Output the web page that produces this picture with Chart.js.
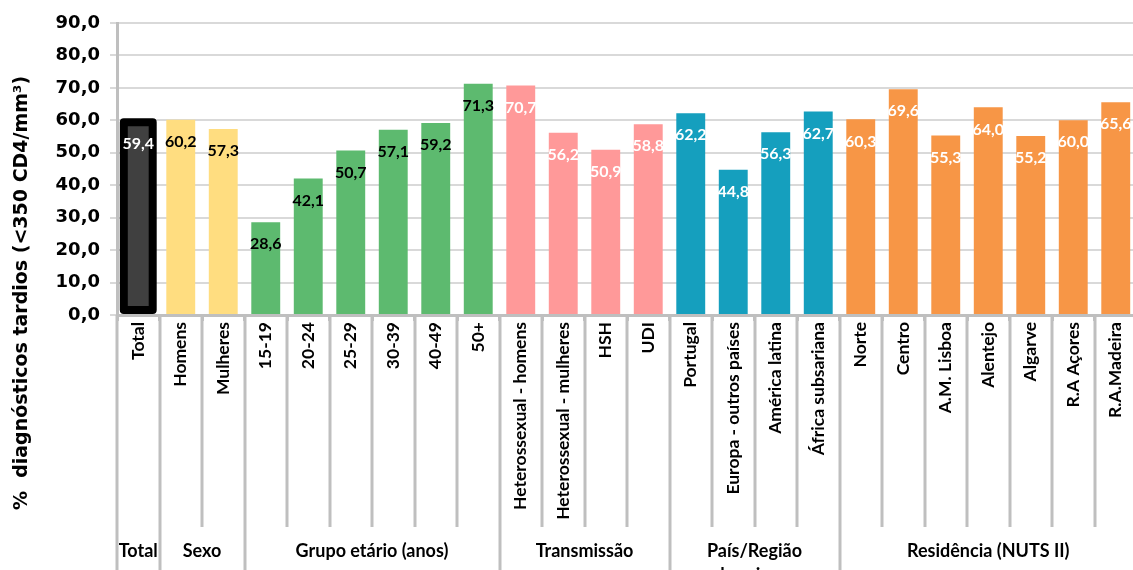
<!DOCTYPE html>
<html lang="pt">
<head>
    <meta charset="UTF-8">
    <title>Diagnósticos tardios de infeção por VIH</title>
    <script src="https://cdn.jsdelivr.net/npm/chart.js"></script>
    <style>
        html, body {
            margin: 0;
            padding: 0;
            overflow: hidden;
            background: #fff;
        }
        .container {
            width: 1140px;
            height: 570px;
            position: relative;
        }
    </style>
</head>
<body>

    <div class="container">
        <canvas id="grafico"></canvas>
    </div>

    <script>
        // Categorias e percentagens de diagnósticos tardios
        const categorias = [
            "Total",
            "Homens", "Mulheres",
            "15-19", "20-24", "25-29", "30-39", "40-49", "50+",
            "Heterossexual - homens", "Heterossexual - mulheres", "HSH", "UDI",
            "Portugal", "Europa - outros países", "América latina", "África subsariana",
            "Norte", "Centro", "A.M. Lisboa", "Alentejo", "Algarve", "R.A Açores", "R.A.Madeira"
        ];
        const valores = [
            59.4,
            60.2, 57.3,
            28.6, 42.1, 50.7, 57.1, 59.2, 71.3,
            70.7, 56.2, 50.9, 58.8,
            62.2, 44.8, 56.3, 62.7,
            60.3, 69.6, 55.3, 64.0, 55.2, 60.0, 65.6
        ];

        // Grupos do eixo horizontal (número de categorias em cada um)
        const grupos = ["Total", "Sexo", "Grupo etário (anos)", "Transmissão", "País/Região\nde origem", "Residência (NUTS II)"];
        const tamanhosGrupo = [1, 2, 6, 4, 4, 7];
        const coresGrupo = ["#404040", "#FFDD80", "#5DBA6F", "#FF9999", "#159FBE", "#F79646"];
        const coresRotulo = ["#ffffff", "#000000", "#000000", "#ffffff", "#ffffff", "#ffffff"];

        const tituloY = "%  diagnósticos tardios (<350 CD4/mm³)";

        // índice do grupo de cada barra
        const grupoDe = [];
        tamanhosGrupo.forEach((n, g) => { for (let k = 0; k < n; k++) grupoDe.push(g); });

        // limites entre grupos (índices de categoria)
        const limitesGrupo = new Set([0]);
        let acum = 0;
        tamanhosGrupo.forEach(n => { acum += n; limitesGrupo.add(acum); });

        const formatar = v => v.toFixed(1).replace(".", ",");

        const desenhoExtra = {
            id: "desenhoExtra",
            afterDatasetsDraw(chart) {
                const ctx = chart.ctx;
                const barras = chart.getDatasetMeta(0).data;

                // contorno preto da barra Total
                const b = barras[0];
                ctx.save();
                ctx.strokeStyle = "#000";
                ctx.lineWidth = 8;
                ctx.lineJoin = "round";
                ctx.strokeRect(b.x - b.width / 2, b.y, b.width, b.base - 4 - b.y);

                // valores dentro das barras
                ctx.font = "bold 16px Lato";
                ctx.textAlign = "center";
                ctx.textBaseline = "middle";
                barras.forEach((bar, i) => {
                    ctx.fillStyle = coresRotulo[grupoDe[i]];
                    ctx.fillText(formatar(valores[i]), bar.x, bar.y + 22);
                });
                ctx.restore();
            },
            afterDraw(chart) {
                const { ctx, chartArea } = chart;
                const x = chart.scales.x;
                const base = chartArea.bottom;

                ctx.save();
                // separadores verticais por baixo do eixo
                ctx.strokeStyle = "#bfbfbf";
                ctx.lineWidth = 3;
                for (let i = 0; i <= categorias.length; i++) {
                    const px = Math.round(x.getPixelForValue(i - 0.5));
                    const fim = limitesGrupo.has(i) ? chart.height : base + 212;
                    ctx.beginPath();
                    ctx.moveTo(px, base);
                    ctx.lineTo(px, fim);
                    ctx.stroke();
                }

                // nomes das categorias (rodados)
                ctx.fillStyle = "#000";
                ctx.font = "bold 17.5px Lato";
                ctx.textAlign = "right";
                ctx.textBaseline = "middle";
                categorias.forEach((c, i) => {
                    ctx.save();
                    ctx.translate(x.getPixelForValue(i), base + 7);
                    ctx.rotate(-Math.PI / 2);
                    ctx.fillText(c, 0, 0);
                    ctx.restore();
                });

                // nomes dos grupos
                ctx.font = "bold 18px Lato";
                ctx.textAlign = "center";
                let inicio = 0;
                grupos.forEach((g, k) => {
                    const fimG = inicio + tamanhosGrupo[k];
                    const cx = (x.getPixelForValue(inicio - 0.5) + x.getPixelForValue(fimG - 0.5)) / 2;
                    g.split("\n").forEach((linha, j) => {
                        ctx.fillText(linha, cx, base + 236 + j * 24);
                    });
                    inicio = fimG;
                });

                // título do eixo vertical
                ctx.font = "bold 19px 'DejaVu Sans'";
                ctx.translate(22, 293);
                ctx.rotate(-Math.PI / 2);
                ctx.fillText(tituloY, 0, 0);
                ctx.restore();
            }
        };

        const ctx = document.getElementById("grafico").getContext("2d");
        const grafico = new Chart(ctx, {
            type: "bar",
            data: {
                labels: categorias,
                datasets: [{
                    data: valores,
                    backgroundColor: grupoDe.map(g => coresGrupo[g]),
                    borderWidth: 0,
                    categoryPercentage: 1,
                    barPercentage: 0.68
                }]
            },
            options: {
                responsive: true,
                maintainAspectRatio: false,
                animation: false,
                events: [],
                layout: { padding: { left: 0, top: 23, right: 3, bottom: 0 } },
                plugins: {
                    legend: { display: false },
                    tooltip: { enabled: false }
                },
                scales: {
                    x: {
                        grid: {
                            drawOnChartArea: false,
                            color: "#bfbfbf",
                            lineWidth: 3,
                            tickLength: 6
                        },
                        border: { color: "#bfbfbf", width: 3 },
                        ticks: { display: false },
                        afterFit(scale) { scale.height = 255; }
                    },
                    y: {
                        min: 0,
                        max: 90,
                        ticks: {
                            stepSize: 10,
                            color: "#000",
                            padding: 10,
                            font: { family: "'DejaVu Sans'", size: 18, weight: "bold" },
                            callback: v => formatar(v)
                        },
                        grid: {
                            color: "#d9d9d9",
                            lineWidth: 2,
                            tickLength: 7
                        },
                        border: { color: "#bfbfbf", width: 3 },
                        afterFit(scale) { scale.width = 117; }
                    }
                }
            },
            plugins: [desenhoExtra]
        });
    </script>

</body>
</html>
